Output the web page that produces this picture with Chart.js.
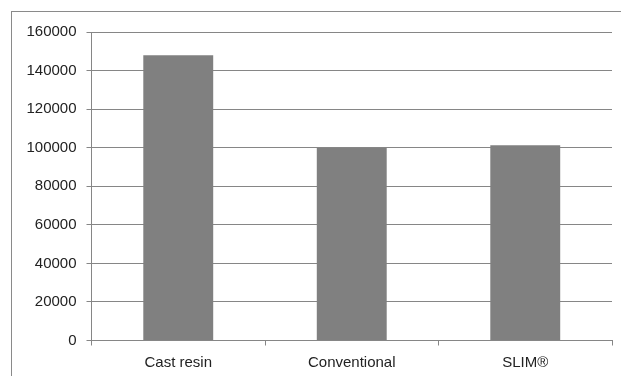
<!DOCTYPE html>
<html lang="en">
<head>
  <meta charset="UTF-8">
  <title>Cost comparison</title>
  <script src="https://cdn.jsdelivr.net/npm/chart.js"></script>
  <style>
    body { margin: 0; background: #fff; overflow: hidden; }
    #wrap { position: relative; width: 621px; height: 376px; overflow: hidden; }
    #frame { position: absolute; left: 11px; top: 11px; width: 640px; height: 400px; border: 1px solid #8a8a8a; }
    canvas { position: absolute; left: 0; top: 0; }
  </style>
</head>
<body>

<div id="wrap">
  <div id="frame"></div>
  <canvas id="costChart" width="621" height="376"></canvas>
</div>

<script>
  const categories = ["Cast resin", "Conventional", "SLIM®"];
  const values = [148000, 99800, 101300];
  const yTicks = [0, 20000, 40000, 60000, 80000, 100000, 120000, 140000, 160000];

  const ctx = document.getElementById('costChart').getContext('2d');
  Chart.defaults.font.family = "'Liberation Sans', Arial, sans-serif";
  Chart.defaults.font.size = 15;
  Chart.defaults.color = '#222';

  new Chart(ctx, {
    type: 'bar',
    data: {
      labels: categories,
      datasets: [{
        data: values,
        backgroundColor: '#808080',
        categoryPercentage: 1,
        barPercentage: 0.403
      }]
    },
    options: {
      responsive: false,
      animation: false,
      layout: { padding: { left: 0, right: 9, top: 32, bottom: 0 } },
      plugins: { legend: { display: false }, tooltip: { enabled: false } },
      scales: {
        x: {
          grid: { drawOnChartArea: false, drawTicks: true, tickLength: 5, color: '#868686' },
          border: { color: '#868686' },
          ticks: { padding: 8 },
          afterFit: (s) => { s.height = 35.5; }
        },
        y: {
          min: 0,
          max: 160000,
          afterBuildTicks: (s) => { s.ticks = yTicks.map(v => ({ value: v })); },
          grid: { color: '#868686', tickLength: 5 },
          border: { color: '#868686' },
          ticks: { padding: 10, callback: (v) => String(v) },
          afterFit: (s) => { s.width = 91.5; }
        }
      }
    }
  });
</script>
</body>
</html>
